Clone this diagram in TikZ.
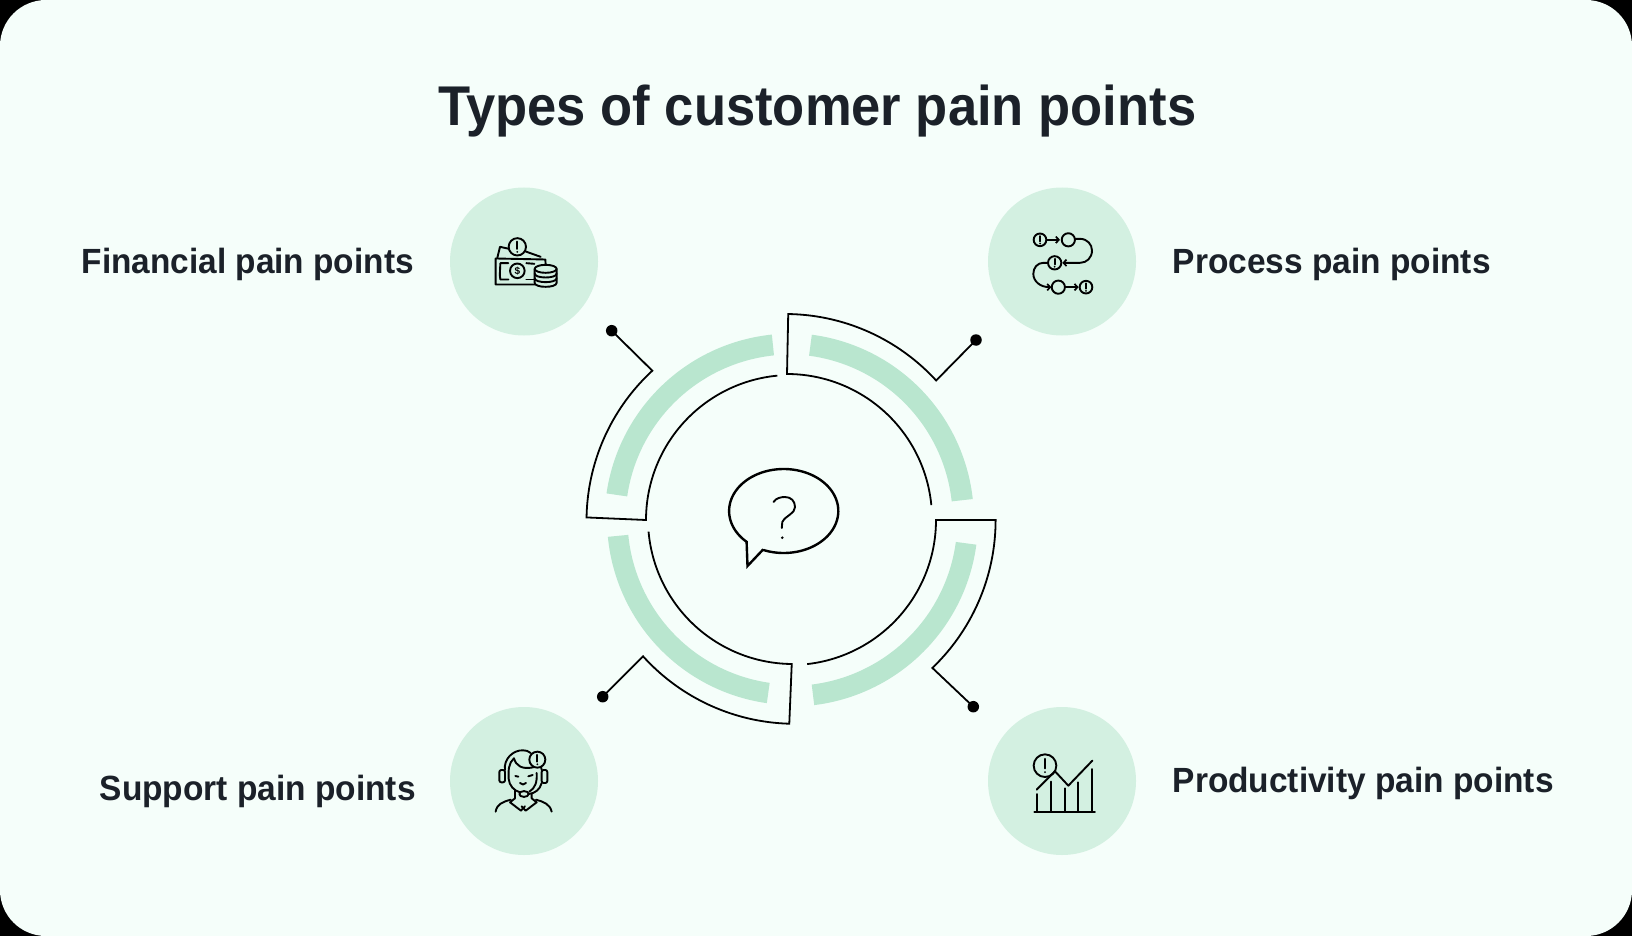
\documentclass[tikz,border=0pt]{standalone}
\usepackage{fontspec}
\setmainfont{Liberation Sans}
\usetikzlibrary{arrows.meta}
\definecolor{pagebg}{HTML}{F5FEFA}
\definecolor{disc}{HTML}{D3F0E1}
\definecolor{band}{HTML}{B9E6CF}
\definecolor{ink}{HTML}{1B2129}
\newcommand\arcmv[5]{plot[domain=#4:#5,samples=70] ({#1+#3*cos(\x)},{#2+#3*sin(\x)})}
\newcommand\arcln[5]{-- plot[domain=#4:#5,samples=70] ({#1+#3*cos(\x)},{#2+#3*sin(\x)})}
% filled ring segment: cx cy rOuter rInner a b
\newcommand\bandseg[6]{\fill[band] \arcmv{#1}{#2}{#3}{#5}{#6} \arcln{#1}{#2}{#4}{#6}{#5} -- cycle;}
% exclamation disc in zoom units: x y r
\newcommand\warnmark[3]{%
  \draw[iconline] (#1,#2) circle[radius=#3/3*1pt];
  \draw[iconline] (#1,#2-0.6*#3) -- (#1,#2+0.25*#3);
  \fill (#1,#2+0.58*#3) circle[radius=1pt];}
\newcommand\fitlabel[3]{\resizebox{#1}{\height}{\fontsize{#2}{#2}\bfseries\selectfont #3}}
\tikzset{
  ringline/.style={draw=black,line width=1.8pt,line join=miter},
  iconline/.style={draw=black,line width=1.9pt,line cap=round,line join=round},
  endball/.style={circle,fill=black,inner sep=0pt,minimum size=11.5pt},
  discnode/.style={circle,fill=disc,inner sep=0pt,minimum size=148pt},
  heading/.style={inner sep=0pt,anchor=base west,text=ink},
  barb/.style={-{Straight Barb[length=3pt,width=6.5pt,line width=1.7pt]}},
  zoomed/.style={x=0.3333pt,y=-0.3333pt},
}
\begin{document}
\begin{tikzpicture}[x=1pt,y=-1pt]
\useasboundingbox (0,0) rectangle (1632,936);
\fill[black] (0,0) rectangle (1632,936);
\fill[pagebg,rounded corners=46pt] (0,0) rectangle (1632,936);

% title and labels
\node[heading] (title) at (438,126) {\fitlabel{758pt}{56}{Types of customer pain points}};
\node[heading] (lfin) at (81.5,273) {\fitlabel{332pt}{35}{Financial pain points}};
\node[heading] (lpro) at (1172.5,273) {\fitlabel{318pt}{35}{Process pain points}};
\node[heading] (lsup) at (99.5,800) {\fitlabel{316pt}{35}{Support pain points}};
\node[heading] (lprd) at (1172.5,792) {\fitlabel{381pt}{35}{Productivity pain points}};

% discs
\node[discnode] (dfin) at (524,261.5) {};
\node[discnode] (dpro) at (1062,261.5) {};
\node[discnode] (dsup) at (524,781) {};
\node[discnode] (dprd) at (1062,781) {};

% green bands
\bandseg{787.5}{519.5}{186.4}{165.2}{-82.5}{-6.3}
\bandseg{791.5}{520}{186.5}{165.8}{7.6}{83}
\bandseg{793}{519}{186}{165.5}{98.1}{174.5}
\bandseg{791}{520}{186.4}{165.5}{188.2}{264.1}

% end balls
\node[endball] (bTR) at (976,340) {};
\node[endball] (bBR) at (973.3,706.7) {};
\node[endball] (bBL) at (602.7,696.7) {};
\node[endball] (bTL) at (611.7,330.7) {};

% ring outlines with lead lines
\draw[ringline] \arcmv{787}{519}{145}{-5.5}{-90} \arcln{785}{519}{205}{-89.1}{-42.5} -- (bTR.center);
\draw[ringline] \arcmv{791}{520}{145}{83.6}{0} \arcln{791}{520}{204.6}{0}{46.3} -- (bBR.center);
\draw[ringline] \arcmv{793}{519}{145}{175}{90.5} \arcln{795}{519}{204.8}{91.6}{137.9} -- (bBL.center);
\draw[ringline] \arcmv{791}{520}{145}{264.6}{180} \arcln{791}{521}{204.5}{181}{227.3} -- (bTL.center);

% speech bubble
\draw[line width=2.4pt,line join=miter,miter limit=10]
  plot[domain=112:-227.2,samples=120] ({783.7+54.6*cos(\x)},{511+42*sin(\x)})
  -- (747.5,566) -- (763.3,549.3);
\draw[line width=1.9pt,line cap=round]
  (773.5,502) .. controls (776,498) and (781,497) .. (785,497)
  .. controls (791,497) and (795,501) .. (795,507)
  .. controls (795,514) and (786,515) .. (782.3,522) -- (781.8,528);
\fill (782.3,537.7) circle[radius=1.4pt];

% money icon
\begin{scope}[shift={(440,179.5)},zoomed]
  \warnmark{232}{202}{26}
  \draw[iconline] (172,235) -- (180,202) -- (207,208);
  \draw[iconline] (257,216) -- (302,232);
  \draw[iconline] (285,315) -- (167,315) -- (167,237) -- (316,240) -- (317,255);
  \draw[iconline] (205,251) -- (181,251) .. controls (181,262) and (178,290) .. (181,300) -- (205,300);
  \draw[iconline] (259,251) -- (283,253);
  \draw[iconline] (259,300) -- (280,300);
  \draw[iconline] (232,274) circle[radius=7.3pt];
  \node[inner sep=0pt,font=\bfseries\fontsize{10}{10}\selectfont] (dollar) at (232,274) {\$};
  \fill[disc] (284,268) rectangle (350,310);
  \draw[iconline] (317,268) circle[x radius=11pt,y radius=4pt];
  \draw[iconline] (284,268) -- (284,310) .. controls (284,326) and (350,326) .. (350,310) -- (350,268);
  \draw[iconline] (284,282) .. controls (284,298) and (350,298) .. (350,282);
  \draw[iconline] (284,296) .. controls (284,312) and (350,312) .. (350,296);
\end{scope}

% process icon
\begin{scope}[shift={(980,179.5)},zoomed]
  \warnmark{180}{181}{19}
  \draw[iconline] (265,181) circle[radius=6.6pt];
  \warnmark{224}{250}{20}
  \draw[iconline] (235,323) circle[radius=6.6pt];
  \warnmark{318}{323}{19}
  \draw[iconline,barb] (200,181) -- (240,181);
  \draw[iconline,barb] (285,178) -- (300,178) .. controls (322,178) and (336,195) .. (336,213)
     .. controls (336,235) and (320,250) .. (300,250) -- (247,250);
  \draw[iconline,barb] (204,250) -- (190,250) .. controls (172,250) and (160,265) .. (160,283)
     .. controls (160,305) and (180,323) .. (214,323);
  \draw[iconline,barb] (255,323) -- (296,323);
\end{scope}

% support icon
\begin{scope}[shift={(440,699)},zoomed]
  \draw[iconline] (195,213) .. controls (190,180) and (220,152) .. (250,154) .. controls (258,154) and (265,156) .. (272,162);
  \draw[iconline,rounded corners=2pt] (195,213) -- (178,213) -- (178,250) -- (195,250) -- cycle;
  \draw[iconline,rounded corners=2pt] (305,213) -- (322,213) -- (322,252) -- (305,252) -- cycle;
  \draw[iconline] (305,213) -- (303,202);
  \draw[iconline] (222,178) .. controls (228,200) and (245,212) .. (280,205);
  \draw[iconline] (222,178) .. controls (205,192) and (205,215) .. (206,240) .. controls (208,260) and (222,275) .. (240,280);
  \draw[iconline] (290,222) .. controls (292,250) and (285,268) .. (268,278);
  \draw[iconline] (305,252) .. controls (300,272) and (285,283) .. (266,285);
  \draw[iconline] (252,285) circle[x radius=4.7pt,y radius=2.9pt];
  \draw[iconline] (226,231) -- (235,233);
  \draw[iconline] (265,232) -- (278,228);
  \draw[iconline] (240,252) .. controls (245,258) and (253,258) .. (258,252);
  \draw[iconline] (225,275) -- (225,298) -- (210,310) -- (243,335) -- (255,322);
  \draw[iconline] (275,285) -- (275,298) -- (290,310) -- (257,335) -- (245,322);
  \draw[iconline] (167,338) .. controls (170,315) and (190,308) .. (212,302);
  \draw[iconline] (335,338) .. controls (330,315) and (310,308) .. (288,302);
  \fill[disc] (292,182) circle[radius=8pt];
  \warnmark{292}{182}{24}
\end{scope}

% productivity icon
\begin{scope}[shift={(980,699)},zoomed]
  \warnmark{195}{200}{34}
  \draw[iconline] (163,338) -- (345,338);
  \draw[iconline] (172,285) -- (172,338);
  \draw[iconline] (213,248) -- (213,338);
  \draw[iconline] (254,268) -- (254,338);
  \draw[iconline] (295,250) -- (295,338);
  \draw[iconline] (335,210) -- (335,338);
  \draw[iconline] (170,272) -- (225,217) -- (265,260) -- (337,185);
\end{scope}
\end{tikzpicture}
\end{document}
